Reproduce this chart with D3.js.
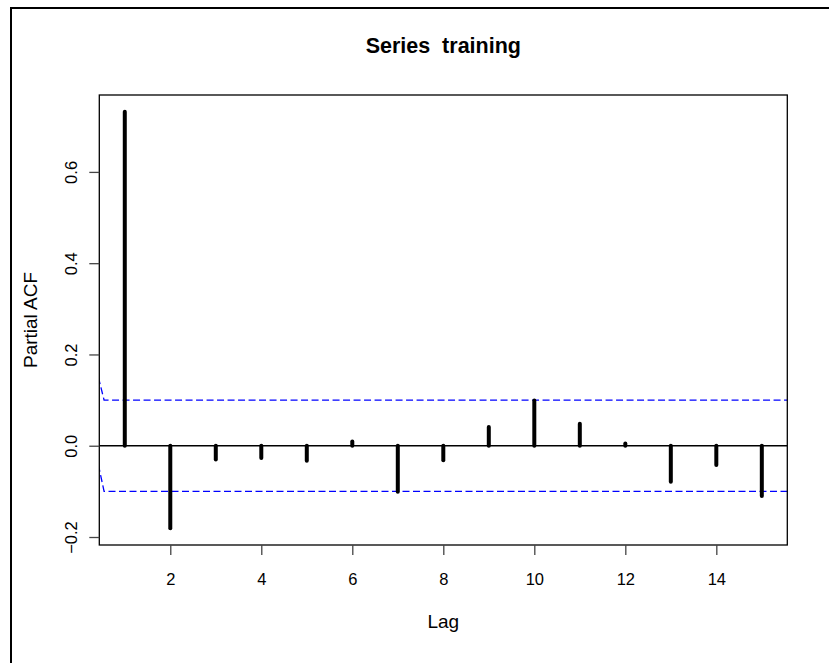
<!DOCTYPE html>
<html>
<head>
<meta charset="utf-8">
<script src="https://cdn.jsdelivr.net/npm/d3@7"></script>
<style>
  html, body { margin: 0; padding: 0; background: #fff; }
  svg { display: block; }
  text { font-family: "Liberation Sans", Arial, Helvetica, sans-serif; }
</style>
</head>
<body>
<script>
// ---- data ----
const lags = [1, 2, 3, 4, 5, 6, 7, 8, 9, 10, 11, 12, 13, 14, 15];
const pacf = [0.732, -0.181, -0.030, -0.027, -0.033, 0.009, -0.101, -0.032, 0.041, 0.099, 0.048, 0.005, -0.079, -0.042, -0.110];
const ciLevel = 0.1;
const ciUpperStart = [[0.42, 0.150], [0.545, 0.1]];
const ciLowerStart = [[0.42, -0.042], [0.545, -0.1]];
const xTicks = [2, 4, 6, 8, 10, 12, 14];
const yTicks = [-0.2, 0.0, 0.2, 0.4, 0.6];
const title = "Series  training";
const xLabel = "Lag";
const yLabel = "Partial ACF";

// ---- layout ----
const W = 829, H = 663;
const plot = { left: 99.3, right: 787.3, top: 95, bottom: 545 };

const svg = d3.select("body").append("svg").attr("width", W).attr("height", H);

// outer frame (only left/top visible in reference)
svg.append("rect")
  .attr("x", 11).attr("y", 8)
  .attr("width", W + 20).attr("height", H + 20)
  .attr("fill", "none").attr("stroke", "#000").attr("stroke-width", 2);

// scales with R-style 4% extension
function ext(lo, hi) { const r = hi - lo; return [lo - 0.04 * r, hi + 0.04 * r]; }
const xExt = d3.extent(lags);
const yExt = d3.extent(pacf.concat([ciLevel, -ciLevel]));
const x = d3.scaleLinear().domain(ext(xExt[0], xExt[1])).range([plot.left, plot.right]);
const y = d3.scaleLinear().domain(ext(yExt[0], yExt[1])).range([plot.bottom, plot.top]);

const clipId = "plotclip";
svg.append("clipPath").attr("id", clipId).append("rect")
  .attr("x", plot.left).attr("y", plot.top)
  .attr("width", plot.right - plot.left).attr("height", plot.bottom - plot.top);

const g = svg.append("g").attr("clip-path", `url(#${clipId})`);

// zero line
g.append("line")
  .attr("x1", plot.left).attr("x2", plot.right)
  .attr("y1", y(0)).attr("y2", y(0))
  .attr("stroke", "#000").attr("stroke-width", 1.5);

// CI lines
const line = d3.line().x(d => x(d[0])).y(d => y(d[1]));
const xEnd = x.domain()[1];
[ciUpperStart.concat([[xEnd, ciLevel]]), ciLowerStart.concat([[xEnd, -ciLevel]])].forEach(pts => {
  g.append("path")
    .attr("d", line(pts))
    .attr("fill", "none")
    .attr("stroke", "#0000ff")
    .attr("stroke-width", 1.3)
    .attr("stroke-dasharray", "7,3.5");
});

// bars
g.selectAll("line.bar").data(lags.map((l, i) => [l, pacf[i]])).enter()
  .append("line").attr("class", "bar")
  .attr("x1", d => x(d[0])).attr("x2", d => x(d[0]))
  .attr("y1", y(0)).attr("y2", d => y(d[1]))
  .attr("stroke", "#000").attr("stroke-width", 4)
  .attr("stroke-linecap", "round");

// box
svg.append("rect")
  .attr("x", plot.left).attr("y", plot.top)
  .attr("width", plot.right - plot.left).attr("height", plot.bottom - plot.top)
  .attr("fill", "none").attr("stroke", "#000").attr("stroke-width", 1.3);

// x axis
const xAxis = d3.axisBottom(x).tickValues(xTicks).tickSize(10).tickPadding(18).tickFormat(d3.format("d"));
const gx = svg.append("g").attr("transform", `translate(0,${plot.bottom})`).call(xAxis);
gx.select(".domain").remove();
gx.selectAll(".tick line").attr("stroke", "#444").attr("stroke-width", 1.3);
gx.selectAll(".tick text").attr("font-size", 16.5).attr("fill", "#000")
  .attr("font-family", "Liberation Sans, Arial, sans-serif");

// y axis
const yAxis = d3.axisLeft(y).tickValues(yTicks).tickSize(10).tickFormat(d3.format(".1f"));
const gy = svg.append("g").attr("transform", `translate(${plot.left},0)`).call(yAxis);
gy.select(".domain").remove();
gy.selectAll(".tick line").attr("stroke", "#444").attr("stroke-width", 1.3);
gy.selectAll(".tick text")
  .attr("font-size", 16.5).attr("fill", "#000")
  .attr("font-family", "Liberation Sans, Arial, sans-serif")
  .attr("x", null).attr("dy", null)
  .attr("text-anchor", "middle")
  .attr("transform", "translate(-22.6,0) rotate(-90)");

// title
svg.append("text")
  .attr("x", (plot.left + plot.right) / 2).attr("y", 53.3)
  .attr("text-anchor", "middle")
  .attr("font-size", 21.5).attr("font-weight", "bold")
  .style("white-space", "pre")
  .attr("xml:space", "preserve")
  .text(title);

// x label
svg.append("text")
  .attr("x", (plot.left + plot.right) / 2).attr("y", 628)
  .attr("text-anchor", "middle").attr("font-size", 19)
  .text(xLabel);

// y label
svg.append("text")
  .attr("transform", `translate(37,${(plot.top + plot.bottom) / 2}) rotate(-90)`)
  .attr("text-anchor", "middle").attr("font-size", 19)
  .text(yLabel);
</script>
</body>
</html>
